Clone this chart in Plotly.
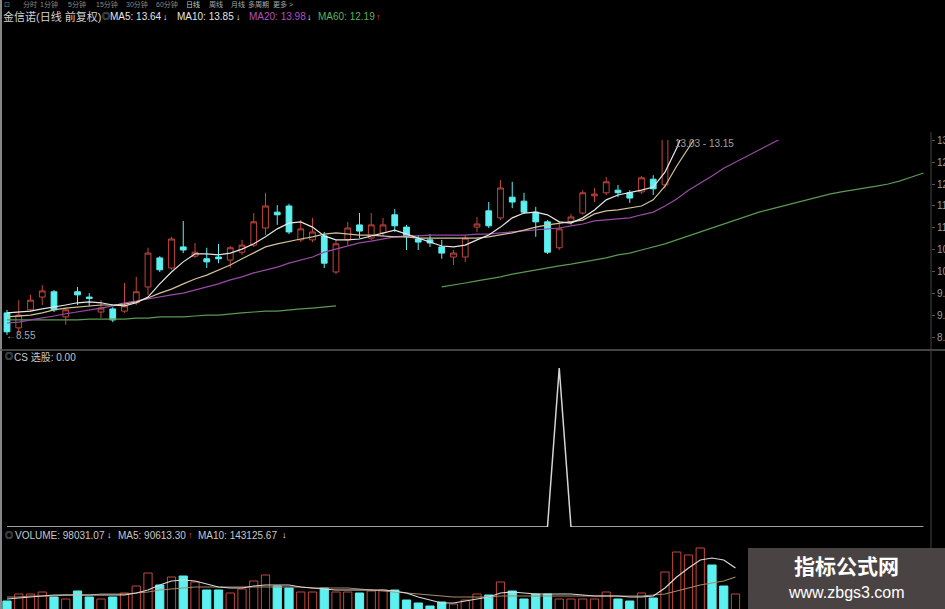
import plotly.graph_objects as go

# ---------------- data ----------------
opens = [9.07, 8.73, 9.14, 9.43, 9.55, 8.98, 9.55, 9.43, 9.09, 9.16,
         9.11, 9.30, 9.66, 10.32, 10.09, 10.57, 10.36, 10.30, 10.34, 10.27,
         10.45, 10.61, 11.00, 11.36, 11.50, 10.73, 10.73, 10.82, 10.00, 10.73,
         11.07, 10.77, 10.89, 11.30, 11.02, 10.75, 10.73, 10.57, 10.34, 10.34,
         11.02, 11.39, 11.23, 11.70, 11.61, 11.36, 11.14, 10.55, 11.14, 11.34,
         11.73, 11.80, 11.86, 11.80, 11.82, 12.11, 11.98]
highs = [9.14, 9.36, 9.48, 9.70, 9.59, 9.18, 9.66, 9.52, 9.36, 9.20,
         9.75, 9.89, 10.55, 10.36, 10.80, 11.16, 10.66, 10.55, 10.64, 10.59,
         10.73, 11.34, 11.80, 11.52, 11.55, 11.18, 11.23, 10.91, 10.73, 11.14,
         11.34, 11.34, 11.23, 11.43, 11.07, 10.84, 10.86, 10.73, 10.50, 10.84,
         11.25, 11.59, 12.09, 12.05, 11.80, 11.48, 11.18, 11.14, 11.32, 11.86,
         11.91, 12.16, 11.98, 11.86, 12.18, 12.20, 13.15]
lows = [8.57, 8.61, 9.09, 9.25, 9.09, 8.80, 9.25, 9.23, 8.95, 8.86,
        9.07, 9.25, 9.48, 10.00, 10.05, 10.43, 10.32, 10.09, 10.20, 10.09,
        10.39, 10.57, 10.84, 11.07, 10.86, 10.68, 10.68, 10.09, 9.95, 10.61,
        10.77, 10.73, 10.82, 10.91, 10.50, 10.50, 10.57, 10.30, 10.16, 10.23,
        10.91, 11.00, 11.18, 11.45, 11.32, 10.80, 10.41, 10.50, 11.07, 11.30,
        11.59, 11.75, 11.70, 11.57, 11.77, 11.75, 11.90]
closes = [8.64, 9.02, 9.36, 9.57, 9.14, 9.14, 9.48, 9.40, 9.18, 8.91,
          9.23, 9.55, 10.43, 10.05, 10.75, 10.50, 10.45, 10.23, 10.30, 10.55,
          10.61, 11.14, 11.50, 11.30, 10.91, 10.98, 10.91, 10.20, 10.64, 11.00,
          10.93, 11.07, 11.07, 11.05, 10.80, 10.68, 10.66, 10.43, 10.43, 10.77,
          11.09, 11.05, 11.91, 11.59, 11.36, 11.14, 10.45, 10.98, 11.25, 11.80,
          11.77, 12.05, 11.80, 11.68, 12.14, 11.89, 13.15]

ma5 = [9.07, 9.09, 9.11, 9.16, 9.20, 9.25, 9.30, 9.32, 9.30, 9.25,
       9.23, 9.30, 9.43, 9.73, 10.00, 10.23, 10.41, 10.41, 10.39, 10.43,
       10.52, 10.64, 10.80, 10.98, 11.11, 11.14, 11.02, 10.82, 10.73, 10.73,
       10.75, 10.82, 10.89, 10.95, 10.86, 10.77, 10.68, 10.59, 10.57, 10.61,
       10.73, 10.84, 11.02, 11.23, 11.34, 11.36, 11.30, 11.14, 11.11, 11.23,
       11.41, 11.64, 11.75, 11.80, 11.86, 11.93, 12.27, 12.82, 13.45]
ma10 = [8.98, 9.00, 9.02, 9.07, 9.14, 9.18, 9.20, 9.23, 9.25, 9.25,
        9.27, 9.32, 9.41, 9.52, 9.61, 9.73, 9.84, 9.93, 10.05, 10.16,
        10.30, 10.43, 10.57, 10.64, 10.70, 10.75, 10.80, 10.86, 10.89, 10.86,
        10.84, 10.84, 10.82, 10.80, 10.80, 10.77, 10.77, 10.77, 10.77, 10.77,
        10.77, 10.80, 10.84, 10.89, 10.95, 11.02, 11.07, 11.11, 11.14, 11.18,
        11.32, 11.39, 11.41, 11.45, 11.50, 11.64, 11.95, 12.41, 12.82, 13.23]
ma20 = [8.84, 8.86, 8.91, 8.95, 9.00, 9.05, 9.09, 9.14, 9.18, 9.23,
        9.30, 9.34, 9.39, 9.43, 9.48, 9.52, 9.59, 9.66, 9.73, 9.82,
        9.89, 9.98, 10.05, 10.11, 10.20, 10.27, 10.34, 10.45, 10.52, 10.59,
        10.66, 10.70, 10.75, 10.80, 10.82, 10.82, 10.84, 10.84, 10.84, 10.84,
        10.86, 10.86, 10.89, 10.91, 10.93, 10.95, 10.98, 11.00, 11.05, 11.09,
        11.16, 11.18, 11.20, 11.23, 11.30, 11.36, 11.50, 11.66, 11.86, 12.02,
        12.18, 12.36, 12.50, 12.64, 12.77, 12.91, 13.05]
ma60 = [8.91, 8.91, 8.91, 8.91, 8.91, 8.91, 8.91, 8.93, 8.93, 8.93,
        8.93, 8.95, 8.95, 8.98, 8.98, 8.98, 9.00, 9.02, 9.02, 9.05,
        9.07, 9.09, 9.11, 9.11, 9.14, 9.16, 9.18, 9.20, 9.23, None,
        None, None, None, None, None, None, None, 9.66, 9.70, 9.75,
        9.80, 9.84, 9.89, 9.95, 10.00, 10.05, 10.09, 10.14, 10.18, 10.23,
        10.27, 10.32, 10.39, 10.43, 10.50, 10.57, 10.64, 10.73, 10.82, 10.91,
        11.00, 11.09, 11.18, 11.27, 11.36, 11.43, 11.50, 11.57, 11.64, 11.70,
        11.77, 11.82, 11.86, 11.91, 11.95, 12.00, 12.07, 12.16, 12.25]

cs_values = [0, 0, 0, 0, 0, 0, 0, 0, 0, 0,
             0, 0, 0, 0, 0, 0, 0, 0, 0, 0,
             0, 0, 0, 0, 0, 0, 0, 0, 0, 0,
             0, 0, 0, 0, 0, 0, 0, 0, 0, 0,
             0, 0, 0, 0, 0, 0, 0, 1, 0, 0,
             0, 0, 0, 0, 0, 0, 0, 0, 0, 0,
             0, 0, 0, 0, 0, 0, 0, 0, 0, 0,
             0, 0, 0, 0, 0, 0, 0, 0, 0]

volumes = [95000, 130000, 130000, 140000, 115000, 105000, 145000, 115000, 105000, 115000,
           135000, 170000, 235000, 175000, 215000, 220000, 190000, 150000, 150000, 135000,
           155000, 195000, 225000, 170000, 160000, 140000, 140000, 160000, 140000, 140000,
           135000, 145000, 150000, 150000, 100000, 85000, 70000, 90000, 80000, 100000,
           130000, 125000, 190000, 145000, 105000, 130000, 130000, 105000, 105000, 105000,
           105000, 140000, 105000, 95000, 135000, 110000, 240000, 340000, 325000, 360000,
           275000, 170000, 130000]
vol_up = [0, 1, 1, 1, 0, 1, 0, 0, 1, 0,
          1, 1, 1, 0, 1, 0, 1, 0, 0, 1,
          1, 1, 1, 0, 0, 1, 1, 0, 1, 1,
          0, 1, 1, 0, 0, 0, 0, 0, 1, 1,
          1, 0, 1, 0, 0, 0, 0, 1, 1, 1,
          1, 1, 0, 0, 1, 0, 1, 1, 1, 1,
          0, 0, 1]
vol_ma5 = [105000, 110000, 115000, 120000, 125000, 125000, 125000, 125000, 125000, 125000,
           125000, 135000, 150000, 175000, 195000, 200000, 195000, 180000, 165000, 160000,
           160000, 170000, 175000, 175000, 175000, 165000, 160000, 155000, 150000, 150000,
           150000, 150000, 150000, 145000, 135000, 115000, 100000, 85000, 85000, 95000,
           105000, 115000, 135000, 140000, 135000, 130000, 130000, 130000, 130000, 125000,
           120000, 120000, 120000, 115000, 115000, 120000, 160000, 215000, 260000, 300000,
           310000, 300000, 260000]
vol_ma10 = [115000, 115000, 120000, 120000, 120000, 125000, 125000, 125000, 130000, 130000,
            130000, 135000, 140000, 150000, 155000, 160000, 165000, 165000, 165000, 165000,
            165000, 165000, 165000, 165000, 165000, 165000, 160000, 160000, 160000, 160000,
            155000, 150000, 145000, 140000, 135000, 130000, 125000, 120000, 115000, 115000,
            115000, 115000, 120000, 120000, 120000, 120000, 120000, 120000, 120000, 120000,
            120000, 120000, 120000, 120000, 120000, 125000, 130000, 145000, 160000, 175000,
            185000, 195000, 215000]

price_ticks = [8.5, 9.0, 9.5, 10.0, 10.5, 11.0, 11.5, 12.0, 12.5, 13.0]

# ---------------- styling ----------------
W, H = 945, 609
ML, MR = 0, 14
PW = W - ML - MR
RED = "#c4463c"
CYAN = "#5cf0f0"
FONT = "Liberation Sans, Noto Sans CJK SC, sans-serif"


def pxx(x):
    return (x - ML) / PW


def pyy(y):
    return 1 - y / H


idx = list(range(len(opens)))
fig = go.Figure()

fig.add_trace(go.Candlestick(
    x=idx, open=opens, high=highs, low=lows, close=closes,
    increasing=dict(line=dict(color=RED, width=1), fillcolor="#000000"),
    decreasing=dict(line=dict(color=CYAN, width=1), fillcolor=CYAN),
    xaxis="x", yaxis="y", showlegend=False, hoverinfo="skip"))

for vals, col in [(ma60, "#5a9a52"), (ma20, "#9a4aa8"), (ma10, "#d2c29a"), (ma5, "#e6e6e6")]:
    fig.add_trace(go.Scatter(x=list(range(len(vals))), y=vals, mode="lines",
                             line=dict(color=col, width=1.2), connectgaps=False,
                             xaxis="x", yaxis="y", showlegend=False, hoverinfo="skip"))

fig.add_trace(go.Scatter(x=list(range(len(cs_values))), y=cs_values, mode="lines",
                         line=dict(color="#d4d4d4", width=1.5),
                         xaxis="x", yaxis="y2", showlegend=False, hoverinfo="skip"))

fig.add_trace(go.Bar(
    x=list(range(len(volumes))), y=volumes,
    marker=dict(color=["#000000" if u else CYAN for u in vol_up],
                line=dict(color=[RED if u else CYAN for u in vol_up], width=1)),
    xaxis="x", yaxis="y3", showlegend=False, hoverinfo="skip"))
fig.add_trace(go.Scatter(x=list(range(len(vol_ma10))), y=vol_ma10, mode="lines",
                         line=dict(color="#a88a66", width=1.2),
                         xaxis="x", yaxis="y3", showlegend=False, hoverinfo="skip"))
fig.add_trace(go.Scatter(x=list(range(len(vol_ma5))), y=vol_ma5, mode="lines",
                         line=dict(color="#d8d8d8", width=1.2),
                         xaxis="x", yaxis="y3", showlegend=False, hoverinfo="skip"))

annotations = []


def txt(s, x, y, size=10, color="#c8c8c8", anchor="left", bold=False):
    if bold:
        s = "<b>" + s + "</b>"
    annotations.append(dict(text=s, x=pxx(x), y=pyy(y), xref="paper", yref="paper",
                            xanchor=anchor, yanchor="middle", showarrow=False,
                            font=dict(size=size, color=color, family=FONT)))


# header row 1
for s, x, c in [("⊡", 2, "#8a8a8a"), ("分时", 21, "#8a8a8a"), ("1分钟", 38, "#8a8a8a"),
                ("5分钟", 66, "#8a8a8a"), ("15分钟", 94, "#8a8a8a"), ("30分钟", 124, "#8a8a8a"),
                ("60分钟", 154, "#8a8a8a"), ("日线", 184, "#b8d8c8"), ("周线", 207, "#a8a8a8"),
                ("月线", 229, "#a8a8a8"), ("多周期", 246, "#a8a8a8"), ("更多 >", 271, "#a8a8a8")]:
    txt(s, x, 5, size=7, color=c)

# header row 2
txt("金信诺(日线 前复权)", 1, 17, size=11, color="#d0d0d0")
txt("◎", 100, 17, size=8, color="#c0c0c0")
txt("MA5: 13.64", 108, 17, color="#e4e4e4")
txt("↓", 161, 17, size=9, color="#ffffff", bold=True)
txt("MA10: 13.85", 175, 17, color="#e4e4e4")
txt("↓", 234, 17, size=9, color="#ffffff", bold=True)
txt("MA20: 13.98", 247, 17, color="#b050c0")
txt("↓", 305, 17, size=9, color="#ffffff", bold=True)
txt("MA60: 12.19", 316, 17, color="#5cb05c")
txt("↑", 374, 17, size=9, color="#e04040", bold=True)

# price panel labels
txt("13.03 - 13.15", 673, 143, color="#a0a0a0")
txt("←8.55", 4, 335, color="#a8a8a8")

# CS panel title
txt("◎", 3, 357, size=8, color="#c0c0c0")
txt("CS 选股: 0.00", 12, 357, color="#c8c8c8")

# volume panel title
txt("◎", 3, 535, size=8, color="#c0c0c0")
txt("VOLUME: 98031.07", 13, 535, color="#c8c8c8")
txt("↓", 105, 535, size=9, color="#ffffff", bold=True)
txt("MA5: 90613.30", 116, 535, color="#c8c8c8")
txt("↑", 186, 535, size=9, color="#e04040", bold=True)
txt("MA10: 143125.67", 196, 535, color="#c8c8c8")
txt("↓", 280, 535, size=9, color="#ffffff", bold=True)

# watermark
txt("指标公式网", 846, 566, size=21, color="#ffffff", anchor="center", bold=True)
txt("www.zbgs3.com", 846, 592, size=16, color="#ffffff", anchor="center")

shapes = [
    dict(type="line", xref="paper", yref="paper", x0=pxx(1), x1=pxx(1), y0=0, y1=1,
         line=dict(color="#b4b4b4", width=1.5)),
    dict(type="line", xref="paper", yref="paper", x0=0, x1=pxx(945), y0=pyy(350), y1=pyy(350),
         line=dict(color="#5a5a5a", width=1.5)),
    dict(type="line", xref="paper", yref="paper", x0=1, x1=1, y0=0, y1=pyy(132),
         line=dict(color="#444444", width=1)),
    dict(type="rect", xref="paper", yref="paper", x0=pxx(748), x1=pxx(946), y0=-0.01, y1=pyy(548),
         fillcolor="#4a4343", line=dict(width=0), layer="above"),
]

fig.update_layout(
    width=W, height=H,
    margin=dict(l=ML, r=MR, t=0, b=0, autoexpand=False),
    paper_bgcolor="#000000", plot_bgcolor="#000000",
    showlegend=False,
    bargap=0.3,
    xaxis=dict(range=[-0.596, 78.64], showgrid=False, zeroline=False, showticklabels=False,
               showline=False, ticks="", rangeslider=dict(visible=False), fixedrange=True,
               automargin=False),
    yaxis=dict(domain=[pyy(347), pyy(140)], range=[8.295, 13.0], side="right",
               tickvals=price_ticks, ticktext=["%.2f" % v for v in price_ticks],
               tickfont=dict(size=10, color="#9a9a9a", family=FONT),
               ticks="outside", ticklen=3, tickcolor="#555555", automargin=False,
               showgrid=False, zeroline=False, showline=False, anchor="x"),
    yaxis2=dict(domain=[pyy(527), pyy(360)], range=[0, 1.05], showticklabels=False,
                showgrid=False, zeroline=False, showline=False, anchor="x", automargin=False),
    yaxis3=dict(domain=[0, pyy(540)], range=[55000, 400000], showticklabels=False,
                showgrid=False, zeroline=False, showline=False, anchor="x", automargin=False),
    annotations=annotations,
    shapes=shapes,
)

fig.write_html("out.html", config={"displayModeBar": False},
               post_script="document.body.style.margin='0px';document.body.style.background='#000';")
